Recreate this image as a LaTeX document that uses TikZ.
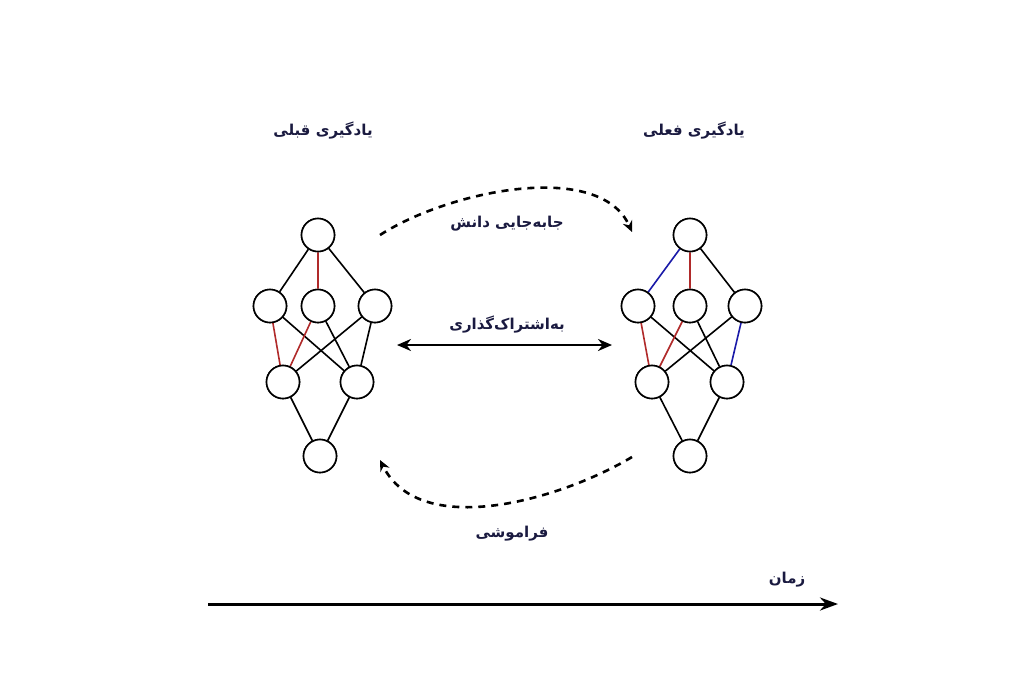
\documentclass[tikz,border=0pt]{standalone}
\usepackage{fontspec}
\TeXXeTstate=1
\newfontfamily\arabicfont[Script=Arabic]{DejaVu Sans}
\usetikzlibrary{arrows.meta}
\definecolor{navy}{HTML}{1A1A40}
\definecolor{redl}{HTML}{B02A2A}
\definecolor{bluel}{HTML}{1A1AA8}
\tikzset{
  neuron/.style={circle,draw,line width=1.6pt,minimum size=33pt,inner sep=0pt,fill=white},
  conn/.style={line width=1.6pt},
  lbl/.style={text=navy,font=\arabicfont\bfseries\fontsize{15}{18}\selectfont},
  dasharrow/.style={line width=2.6pt,dash pattern=on 7pt off 6pt,-{Stealth[length=11pt,width=10pt]}}
}
\newcommand{\rtl}[1]{\beginR #1\endR}
\begin{document}
\begin{tikzpicture}[x=1pt,y=-1pt]
\useasboundingbox (0,0) rectangle (1024,683);
% left network
\foreach \n/\x/\y in {lt/318/235,lL/270/306,lC/318/306,lR/375/306,la/283/382,lb/357/382,lo/320/456,
                      rt/690/235,rL/638/306,rC/690/306,rR/745/306,ra/652/382,rb/727/382,ro/690/456}
  \node[neuron] (\n) at (\x,\y) {};
\begin{scope}[on background layer/.style={}]
\end{scope}
\draw[conn] (lt)--(lL) (lt)--(lR) (lL)--(lb) (lC)--(lb) (lR)--(la) (lR)--(lb) (la)--(lo) (lb)--(lo);
\draw[conn,redl] (lt)--(lC) (lL)--(la) (lC)--(la);
\draw[conn] (rt)--(rR) (rL)--(rb) (rC)--(rb) (rR)--(ra) (ra)--(ro) (rb)--(ro);
\draw[conn,redl] (rt)--(rC) (rL)--(ra) (rC)--(ra);
\draw[conn,bluel] (rt)--(rL) (rR)--(rb);
\foreach \n in {lt,lL,lC,lR,la,lb,lo,rt,rL,rC,rR,ra,rb,ro}
  \node[neuron] at (\n) {};
% labels
\node[lbl] (t1) at (323,131) {\rtl{یادگیری قبلی}};
\node[lbl] (t2) at (694,131) {\rtl{یادگیری فعلی}};
\node[lbl] (k1) at (507,224) {\rtl{جابه‌جایی دانش}};
\node[lbl] (k2) at (507,325) {\rtl{به‌اشتراک‌گذاری}};
\node[lbl] (k3) at (512,534) {\rtl{فراموشی}};
\node[lbl] (k4) at (787,580) {\rtl{زمان}};
% arrows
\coordinate (s1) at (380,235);
\coordinate (e1) at (632,232);
\draw[dasharrow] (s1) .. controls (450,190) and (600,160) .. (e1);
\coordinate (s2) at (632,457);
\coordinate (e2) at (380,460);
\draw[dasharrow] (s2) .. controls (560,500) and (420,540) .. (e2);
\coordinate (d1) at (397,345);
\coordinate (d2) at (612,345);
\draw[line width=2.6pt,{Stealth[length=14pt,width=12pt]}-{Stealth[length=14pt,width=12pt]}] (d1)--(d2);
\coordinate (z1) at (208,604);
\coordinate (z2) at (838,604);
\draw[line width=3pt,-{Stealth[length=18pt,width=13pt]}] (z1)--(z2);
\end{tikzpicture}
\end{document}
